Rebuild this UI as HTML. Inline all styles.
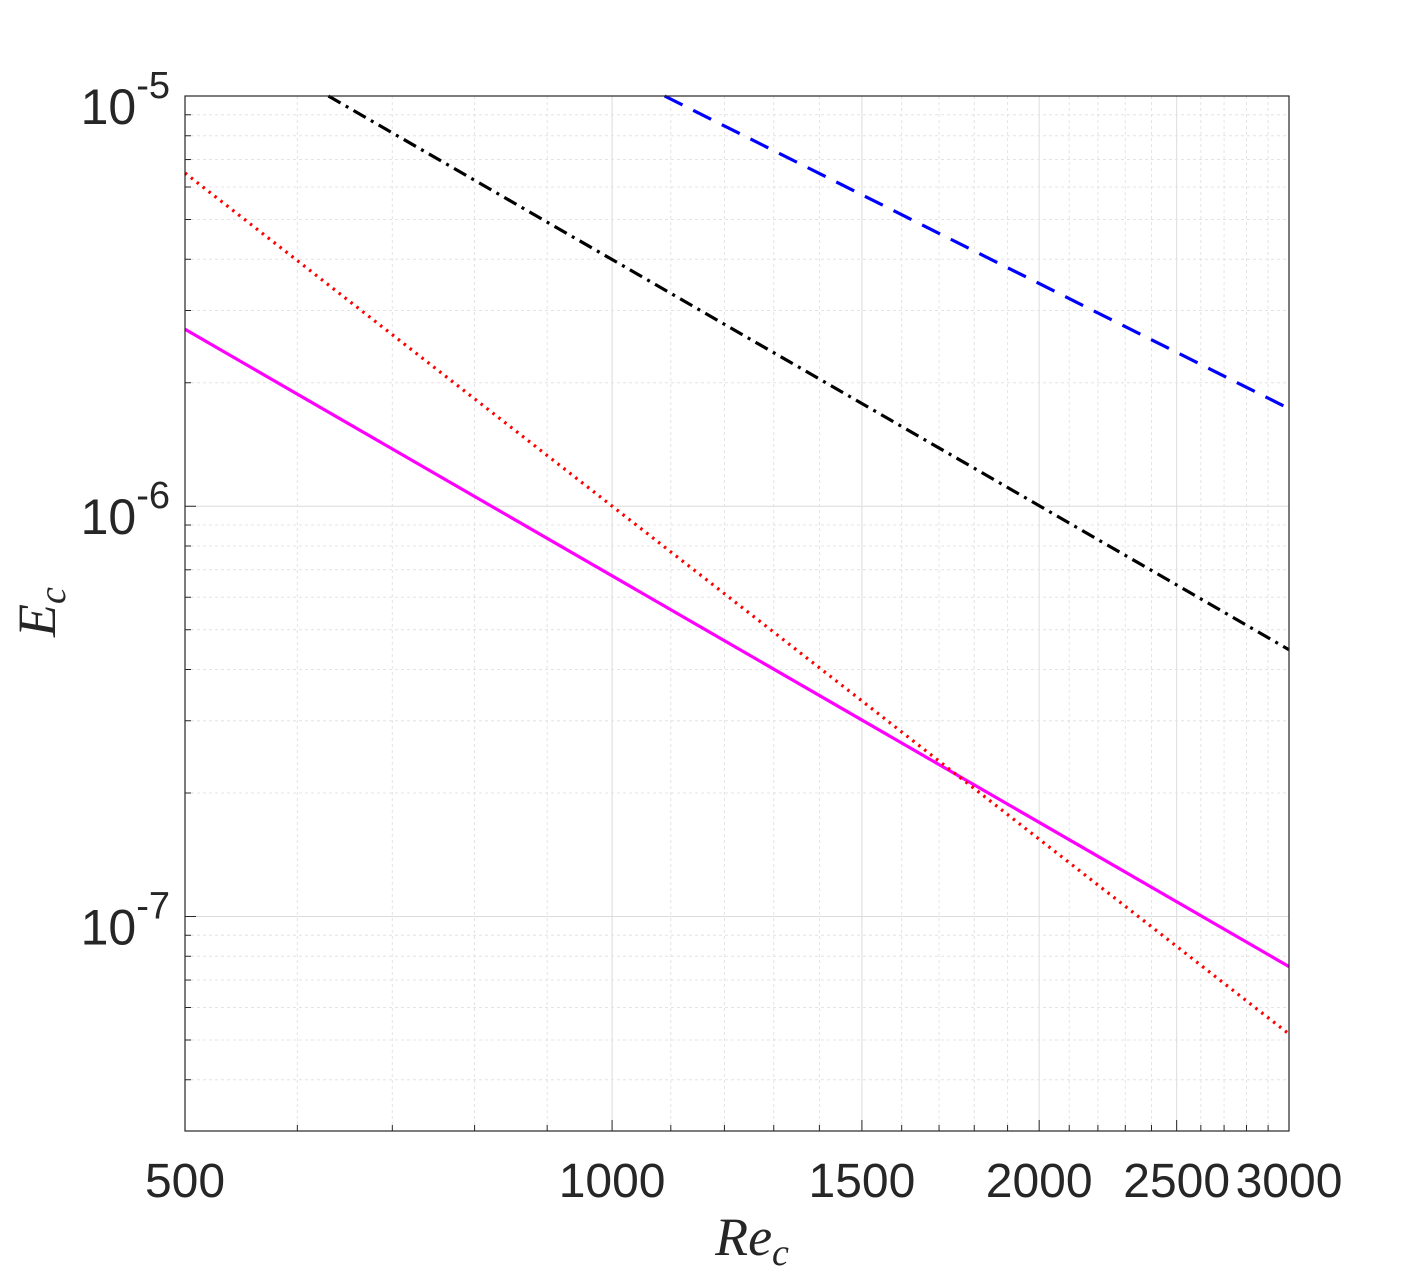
<!DOCTYPE html>
<html><head><meta charset="utf-8"><style>
html,body{margin:0;padding:0;background:#fff;}
svg{display:block;font-family:"Liberation Sans",sans-serif;}
</style></head><body>
<svg id="chart" width="1425" height="1275">
<rect x="0" y="0" width="1425" height="1275" fill="#fff"/>
<g id="grid"></g>
<g id="series"></g>
<g id="axes"></g>
<text x="752" y="1255" font-family="Liberation Serif,serif" font-style="italic" font-size="54" text-anchor="middle" fill="#262626">Re<tspan font-size="38" dy="10">c</tspan></text>
<text transform="translate(55,612) rotate(-90)" font-family="Liberation Serif,serif" font-style="italic" font-size="54" text-anchor="middle" fill="#262626">E<tspan font-size="38" dy="10">c</tspan></text>
</svg>
<script>
const xTicks = [500, 1000, 1500, 2000, 2500, 3000];
const yTickExps = [-5, -6, -7];
const seriesNames = ['magenta-solid', 'red-dotted', 'black-dashdot', 'blue-dashed'];
const magentaX = [500, 3000];
const magentaY = [2.70e-6, 7.55e-8];
const redX = [500, 3000];
const redY = [6.49e-6, 5.17e-8];
const blackX = [631, 3000];
const blackY = [1.0e-5, 4.47e-7];
const blueX = [1089, 3000];
const blueY = [1.0e-5, 1.73e-6];

const X0 = 185, X1 = 1289, Y0 = 96, Y1 = 1131;
const xmin = Math.log10(500), xmax = Math.log10(3000);
const ymin = Math.log10(3e-8), ymax = -5;
function sx(v){return X0 + (Math.log10(v)-xmin)/(xmax-xmin)*(X1-X0);}
function sy(v){return Y0 + (ymax-Math.log10(v))/(ymax-ymin)*(Y1-Y0);}
const NS = 'http://www.w3.org/2000/svg';
function mk(tag, attrs, parent){const e=document.createElementNS(NS,tag);for(const k in attrs)e.setAttribute(k,attrs[k]);parent.appendChild(e);return e;}
const grid = document.getElementById('grid');
const axes = document.getElementById('axes');
const ser = document.getElementById('series');

for (let v = 500; v <= 3000; v += 100) {
  const major = xTicks.includes(v);
  const x = sx(v);
  const l = mk('line', {x1:x, x2:x, y1:Y0, y2:Y1, stroke: major ? '#dcdcdc' : '#e4e4e4', 'stroke-width': 1, 'stroke-dasharray': major ? '' : '3,3'}, grid);
  
  
  const t = mk('line', {x1:x, x2:x, y1:Y1, y2:Y1-(major?11:6), stroke:'#262626','stroke-width':1}, axes);
  
  
}
xTicks.forEach(v => {
  const t = mk('text', {x:sx(v), y:1197, 'font-size':48, 'text-anchor':'middle', fill:'#262626'}, axes);
  t.textContent = v;
  
  
});
for (let e = -8; e <= -6; e++) {
  for (let m = 1; m <= 9; m++) {
    const v = m * Math.pow(10, e);
    if (v < 3e-8 * 0.999 || v > 1e-5 * 1.001) continue;
    const y = sy(v);
    const major = m === 1;
    const l = mk('line', {x1:X0, x2:X1, y1:y, y2:y, stroke: major ? '#dcdcdc' : '#e4e4e4', 'stroke-width':1, 'stroke-dasharray': major ? '' : '3,3'}, grid);
    
    
    const t = mk('line', {x1:X0, x2:X0+(major?11:6), y1:y, y2:y, stroke:'#262626','stroke-width':1}, axes);
    
    
  }
}
yTickExps.forEach(e => {
  const y = sy(Math.pow(10, e));
  const t = mk('text', {x:170, y:y+28, 'font-size':50, 'text-anchor':'end', fill:'#262626'}, axes);
  t.textContent = '10';
  const s = mk('tspan', {'font-size':38, dy:-26}, t);
  s.textContent = String(e);
  
  
});
const box = mk('rect', {x:X0, y:Y0, width:X1-X0, height:Y1-Y0, fill:'none', stroke:'#262626', 'stroke-width':1.2}, axes);



const defs = [
  [magentaX, magentaY, '#ff00ff', ''],
  [redX, redY, '#ff0000', '2.5,5'],
  [blackX, blackY, '#000000', '14,6,3,6'],
  [blueX, blueY, '#0000ff', '20,12']
];
defs.forEach((d, i) => {
  const pts = d[0].map((xv, j) => sx(xv).toFixed(1) + ',' + sy(d[1][j]).toFixed(1)).join(' ');
  const p = mk('polyline', {points: pts, fill:'none', stroke:d[2], 'stroke-width':3.2, 'stroke-dasharray':d[3]}, ser);
  
  
});
</script>
</body></html>
